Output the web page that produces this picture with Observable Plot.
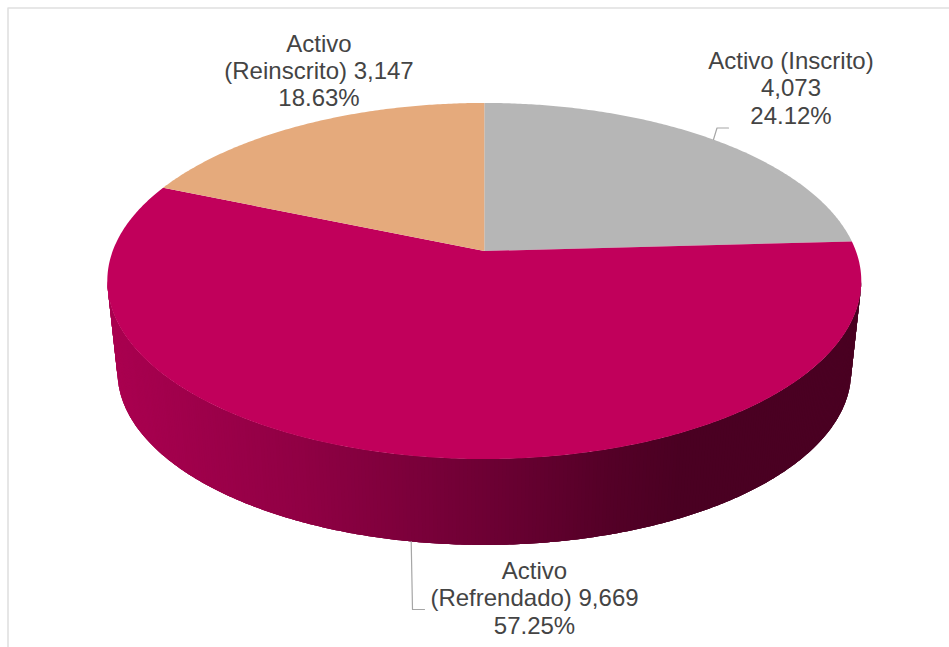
<!DOCTYPE html>
<html>
<head>
<meta charset="utf-8">
<script src="https://cdn.jsdelivr.net/npm/d3@7"></script>
<script src="https://cdn.jsdelivr.net/npm/@observablehq/plot@0.6"></script>
<style>html,body{margin:0;padding:0;background:#fff}svg{display:block}</style>
</head>
<body>
<div id="chart"></div>
<script>
const categories = ["Activo (Inscrito)", "Activo (Refrendado)", "Activo (Reinscrito)"];
const values = [4073, 9669, 3147];
const shares = [24.12, 57.25, 18.63];
const sliceColors = ["#b6b6b6", "#c1005b", "#e5aa7c"];

const labelLines = [
  ["Activo (Inscrito)", "4,073", "24.12%"],
  ["Activo", "(Refrendado) 9,669", "57.25%"],
  ["Activo", "(Reinscrito) 3,147", "18.63%"]
];
const labelX = [790.5, 534, 318.5];
const labelY = [[61, 88, 116], [571, 598, 626], [44, 71, 98]];
const leaders = [
  [[713, 139], [716.5, 127.5], [728, 127.5]],
  [[410.7, 541], [412, 609], [424, 609]]
];
const sideStops = [107, 300, 484, 600, 680, 861];
const sideColors = ["#aa0050", "#900044", "#6e0034", "#560028", "#4a0022", "#4a0022"];
const frame = [[7.5, 647], [7.5, 7.5], [949, 7.5]];

const width = 949, height = 647;
const apex = [484.3, 251], baseApex = [484.3, 342.5];
const radiusX = 371.6, radiusY = 173, tilt = 0.1685, baseScale = 0.973;

// Perspective view of a point on the disc rim (angle clockwise from 12 o'clock).
function rim(a, origin = apex, s = 1) {
  const X = Math.sin(a), Y = Math.cos(a), d = 1 + tilt * Y;
  return [origin[0] + s * radiusX * X / d, origin[1] - s * radiusY * Y / d];
}

const arcs = d3.pie().sort(null)(values);
const step = Math.PI / 360;

const slicePoints = arcs.map(arc => {
  const n = Math.ceil((arc.endAngle - arc.startAngle) / step);
  return d3.range(n + 1).map(i => rim(arc.startAngle + (arc.endAngle - arc.startAngle) * i / n));
});

// The visible wall runs between the two widest rim points; each strip overlaps the next one.
const wallStart = Math.acos(-tilt), wallEnd = 2 * Math.PI - wallStart;
const bands = d3.range(wallStart, wallEnd, step).flatMap((a, i) => {
  const mid = rim(a + step / 2)[0];
  return [0, 1, 2, 3].map(k => Math.min(a + k * step, wallEnd)).map(t => {
    const top = rim(t), bottom = rim(t, baseApex, baseScale);
    return {i, mid, x1: top[0], y1: top[1], x2: bottom[0], y2: bottom[1]};
  });
});

const labelData = labelLines.flatMap((lines, i) =>
  lines.map((text, j) => ({text, x: labelX[i], y: labelY[i][j]})));

const plot = Plot.plot({
  width, height,
  margin: 0,
  x: {domain: [0, width], range: [0, width], axis: null},
  y: {domain: [0, height], range: [0, height], axis: null},
  color: {type: "linear", domain: sideStops, range: sideColors, interpolate: "rgb", legend: false},
  style: {background: "#fff"},
  marks: [
    Plot.line(frame, {x: d => d[0], y: d => d[1], stroke: "#e0e0e0", strokeWidth: 1.6}),
    Plot.area(bands, {x1: "x1", y1: "y1", x2: "x2", y2: "y2", z: "i", fill: "mid"}),
    ...slicePoints.map((pts, i) =>
      Plot.area(pts, {
        x1: d => d[0], y1: d => d[1],
        x2: () => apex[0], y2: () => apex[1],
        fill: sliceColors[i], curve: "linear"
      })),
    ...leaders.map(l => Plot.line(l, {x: d => d[0], y: d => d[1], stroke: "#a6a6a6", strokeWidth: 1.2})),
    Plot.text(labelData, {
      x: "x", y: "y", text: "text",
      fontFamily: "Liberation Sans", fontSize: 24, fill: "#444444", textAnchor: "middle"
    })
  ]
});
document.getElementById("chart").append(plot);
</script>
</body>
</html>
